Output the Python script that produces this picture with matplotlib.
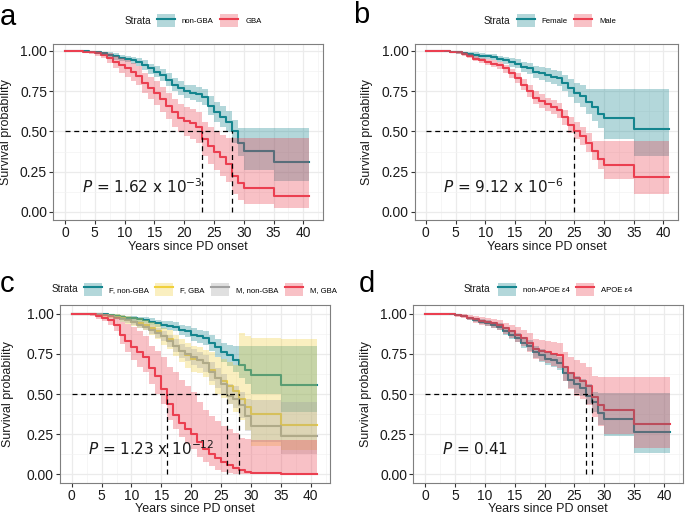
import matplotlib

matplotlib.use("Agg")

import matplotlib.pyplot as plt  # noqa: E402
import numpy as np  # noqa: E402
from matplotlib.lines import Line2D  # noqa: E402
from matplotlib.patches import Patch  # noqa: E402
from matplotlib.legend_handler import HandlerTuple  # noqa: E402

# ── Data ───────────────────────────────────────────────────────────────────────
# step times shared by every curve; each curve runs on to END
YEARS = [0, 3, 4, 5, 6, 7, 8, 9, 10, 11, 12, 13, 14, 15, 16, 17, 18, 19, 20,
         21, 22, 23, 24, 25, 26, 27, 28, 29, 30, 35]
END = 41

# a: GBA status
A_NONGBA = [1.00, 0.998, 0.995, 0.99, 0.985, 0.975, 0.965, 0.955, 0.95, 0.94, 0.93, 0.91, 0.89, 0.87, 0.85,
            0.82, 0.79, 0.77, 0.75, 0.74, 0.73, 0.715, 0.66, 0.62, 0.59, 0.56, 0.50, 0.43, 0.378, 0.308]
A_NONGBA_HI = [1.0, 1.0, 1.0, 1.0, 0.995, 0.99, 0.985, 0.975, 0.97, 0.962, 0.955, 0.94, 0.92, 0.905, 0.885,
               0.86, 0.83, 0.81, 0.79, 0.785, 0.775, 0.765, 0.72, 0.685, 0.655, 0.625, 0.57, 0.52, 0.52, 0.52]
A_NONGBA_LO = [1.0, 0.995, 0.99, 0.98, 0.974, 0.96, 0.945, 0.935, 0.928, 0.915, 0.903, 0.88, 0.858, 0.835, 0.813,
               0.78, 0.75, 0.728, 0.705, 0.695, 0.683, 0.663, 0.60, 0.555, 0.525, 0.495, 0.43, 0.35, 0.26, 0.19]
A_GBA = [1.00, 0.995, 0.99, 0.985, 0.975, 0.955, 0.93, 0.91, 0.89, 0.87, 0.845, 0.80, 0.77, 0.74, 0.70,
         0.66, 0.62, 0.585, 0.565, 0.55, 0.53, 0.45, 0.41, 0.37, 0.34, 0.30, 0.22, 0.18, 0.15, 0.10]
A_GBA_HI = [1.0, 1.0, 1.0, 1.0, 0.995, 0.985, 0.97, 0.955, 0.94, 0.925, 0.905, 0.865, 0.84, 0.81, 0.775,
            0.74, 0.70, 0.67, 0.65, 0.64, 0.62, 0.56, 0.53, 0.50, 0.48, 0.46, 0.46, 0.46, 0.457, 0.457]
A_GBA_LO = [1.0, 0.99, 0.98, 0.97, 0.955, 0.925, 0.89, 0.865, 0.84, 0.815, 0.785, 0.735, 0.70, 0.665, 0.62,
            0.575, 0.53, 0.495, 0.47, 0.455, 0.43, 0.345, 0.30, 0.26, 0.225, 0.185, 0.11, 0.075, 0.05, 0.023]
A_MEDIANS = [23, 28]

# b: sex
B_FEMALE = [1.00, 0.998, 0.995, 0.99, 0.985, 0.98, 0.975, 0.97, 0.965, 0.96, 0.95, 0.94, 0.93, 0.92, 0.90,
            0.89, 0.87, 0.86, 0.85, 0.84, 0.83, 0.80, 0.77, 0.74, 0.72, 0.68, 0.65, 0.61, 0.58, 0.515]
B_FEMALE_HI = [1.0, 1.0, 1.0, 1.0, 0.995, 0.993, 0.99, 0.985, 0.982, 0.978, 0.97, 0.963, 0.955, 0.948, 0.93,
               0.922, 0.905, 0.897, 0.89, 0.882, 0.875, 0.85, 0.825, 0.80, 0.785, 0.765, 0.76, 0.76, 0.76, 0.76]
B_FEMALE_LO = [1.0, 0.995, 0.99, 0.98, 0.972, 0.965, 0.958, 0.952, 0.946, 0.94, 0.928, 0.915, 0.902, 0.89, 0.867,
               0.855, 0.832, 0.82, 0.807, 0.795, 0.783, 0.748, 0.713, 0.678, 0.653, 0.605, 0.565, 0.52, 0.455, 0.35]
B_MALE = [1.00, 0.997, 0.993, 0.99, 0.98, 0.97, 0.95, 0.94, 0.93, 0.92, 0.91, 0.89, 0.86, 0.83, 0.79,
          0.75, 0.71, 0.69, 0.67, 0.65, 0.63, 0.59, 0.54, 0.50, 0.47, 0.43, 0.38, 0.33, 0.29, 0.215]
B_MALE_HI = [1.0, 1.0, 0.998, 0.995, 0.99, 0.982, 0.965, 0.957, 0.948, 0.94, 0.932, 0.914, 0.888, 0.86, 0.825,
             0.787, 0.75, 0.73, 0.71, 0.692, 0.673, 0.635, 0.59, 0.555, 0.525, 0.49, 0.44, 0.44, 0.44, 0.44]
B_MALE_LO = [1.0, 0.993, 0.987, 0.982, 0.97, 0.957, 0.934, 0.922, 0.91, 0.898, 0.887, 0.865, 0.83, 0.797, 0.755,
             0.713, 0.67, 0.648, 0.627, 0.605, 0.585, 0.54, 0.49, 0.45, 0.415, 0.375, 0.32, 0.265, 0.205, 0.11]
B_MEDIANS = [25]

# c: sex x GBA status
C_F_NONGBA = [1.00, 0.999, 0.997, 0.995, 0.99, 0.985, 0.98, 0.975, 0.97, 0.965, 0.96, 0.95, 0.94, 0.93, 0.925,
              0.92, 0.90, 0.89, 0.87, 0.86, 0.85, 0.82, 0.79, 0.76, 0.74, 0.71, 0.68, 0.65, 0.62, 0.557]
C_F_NONGBA_HI = [1.0, 1.0, 1.0, 1.0, 0.998, 0.995, 0.992, 0.988, 0.985, 0.982, 0.978, 0.97, 0.963, 0.955, 0.952,
                 0.948, 0.932, 0.924, 0.908, 0.90, 0.892, 0.868, 0.845, 0.82, 0.805, 0.80, 0.80, 0.80, 0.80, 0.80]
C_F_NONGBA_LO = [1.0, 0.997, 0.993, 0.988, 0.98, 0.973, 0.966, 0.96, 0.953, 0.946, 0.94, 0.928, 0.915, 0.903, 0.896,
                 0.89, 0.866, 0.853, 0.83, 0.818, 0.805, 0.77, 0.733, 0.697, 0.672, 0.635, 0.60, 0.56, 0.50, 0.385]
C_F_GBA = [1.00, 0.998, 0.995, 0.99, 0.985, 0.98, 0.97, 0.96, 0.95, 0.94, 0.93, 0.91, 0.89, 0.86, 0.84,
           0.80, 0.77, 0.74, 0.72, 0.71, 0.69, 0.65, 0.60, 0.58, 0.55, 0.52, 0.47, 0.42, 0.377, 0.31]
C_F_GBA_HI = [1.0, 1.0, 1.0, 1.0, 0.998, 0.995, 0.99, 0.984, 0.977, 0.97, 0.963, 0.95, 0.935, 0.912, 0.897,
              0.865, 0.842, 0.818, 0.80, 0.792, 0.776, 0.76, 0.73, 0.72, 0.70, 0.68, 0.88, 0.86, 0.85, 0.845]
C_F_GBA_LO = [1.0, 0.995, 0.99, 0.98, 0.972, 0.965, 0.95, 0.936, 0.923, 0.91, 0.897, 0.87, 0.845, 0.808, 0.783,
              0.735, 0.698, 0.662, 0.64, 0.628, 0.604, 0.558, 0.50, 0.477, 0.44, 0.39, 0.34, 0.275, 0.175, 0.15]
C_M_NONGBA = [1.00, 0.998, 0.995, 0.99, 0.985, 0.975, 0.965, 0.958, 0.95, 0.93, 0.92, 0.90, 0.88, 0.86, 0.83,
              0.80, 0.77, 0.75, 0.73, 0.71, 0.69, 0.64, 0.60, 0.56, 0.49, 0.47, 0.43, 0.36, 0.30, 0.237]
C_M_NONGBA_HI = [1.0, 1.0, 1.0, 0.997, 0.993, 0.986, 0.979, 0.974, 0.968, 0.952, 0.944, 0.927, 0.91, 0.893, 0.867,
                 0.84, 0.813, 0.795, 0.778, 0.76, 0.742, 0.697, 0.66, 0.625, 0.565, 0.55, 0.51, 0.47, 0.46, 0.45]
C_M_NONGBA_LO = [1.0, 0.995, 0.99, 0.983, 0.977, 0.964, 0.951, 0.942, 0.932, 0.908, 0.896, 0.873, 0.85, 0.827, 0.793,
                 0.76, 0.727, 0.705, 0.682, 0.66, 0.638, 0.583, 0.54, 0.495, 0.435, 0.41, 0.35, 0.27, 0.20, 0.124]
C_M_GBA = [1.00, 0.995, 0.985, 0.975, 0.96, 0.93, 0.87, 0.83, 0.79, 0.76, 0.73, 0.66, 0.61, 0.53, 0.44,
           0.37, 0.32, 0.28, 0.25, 0.20, 0.155, 0.125, 0.10, 0.075, 0.06, 0.04, 0.028, 0.015, 0.01, 0.003]
C_M_GBA_HI = [1.0, 1.0, 1.0, 0.998, 0.993, 0.98, 0.95, 0.935, 0.92, 0.89, 0.86, 0.80, 0.77, 0.73, 0.67,
              0.64, 0.59, 0.55, 0.51, 0.45, 0.40, 0.36, 0.33, 0.30, 0.28, 0.26, 0.225, 0.22, 0.215, 0.215]
C_M_GBA_LO = [1.0, 0.985, 0.968, 0.952, 0.93, 0.89, 0.81, 0.76, 0.71, 0.67, 0.635, 0.56, 0.50, 0.44, 0.34,
              0.28, 0.23, 0.19, 0.16, 0.11, 0.075, 0.05, 0.03, 0.015, 0.006, 0.0, 0.0, 0.0, 0.0, 0.0]
C_MEDIANS = [16, 26, 28]

# d: APOE e4 status
D_NONAPOE = [1.00, 0.998, 0.995, 0.99, 0.985, 0.97, 0.96, 0.95, 0.94, 0.93, 0.92, 0.89, 0.87, 0.85, 0.82,
             0.80, 0.76, 0.74, 0.72, 0.71, 0.69, 0.63, 0.59, 0.56, 0.54, 0.49, 0.45, 0.38, 0.344, 0.262]
D_NONAPOE_HI = [1.0, 1.0, 1.0, 0.997, 0.993, 0.982, 0.974, 0.966, 0.958, 0.95, 0.942, 0.915, 0.897, 0.879, 0.852,
                0.834, 0.797, 0.778, 0.76, 0.75, 0.732, 0.676, 0.64, 0.612, 0.594, 0.56, 0.515, 0.505, 0.505, 0.505]
D_NONAPOE_LO = [1.0, 0.995, 0.99, 0.983, 0.977, 0.958, 0.946, 0.934, 0.922, 0.91, 0.898, 0.865, 0.843, 0.821, 0.788,
                0.766, 0.723, 0.702, 0.68, 0.67, 0.648, 0.584, 0.54, 0.508, 0.486, 0.44, 0.385, 0.31, 0.237, 0.134]
D_APOE = [1.00, 0.998, 0.995, 0.99, 0.985, 0.975, 0.965, 0.955, 0.95, 0.94, 0.93, 0.91, 0.89, 0.87, 0.85,
          0.82, 0.78, 0.77, 0.76, 0.75, 0.74, 0.67, 0.63, 0.60, 0.58, 0.55, 0.48, 0.43, 0.398, 0.315]
D_APOE_HI = [1.0, 1.0, 1.0, 1.0, 0.997, 0.99, 0.984, 0.977, 0.974, 0.967, 0.96, 0.945, 0.93, 0.915, 0.90,
             0.877, 0.845, 0.837, 0.83, 0.825, 0.82, 0.76, 0.73, 0.71, 0.69, 0.67, 0.61, 0.604, 0.604, 0.604]
D_APOE_LO = [1.0, 0.995, 0.99, 0.98, 0.972, 0.958, 0.945, 0.932, 0.925, 0.912, 0.90, 0.875, 0.85, 0.825, 0.80,
             0.763, 0.715, 0.703, 0.69, 0.675, 0.66, 0.58, 0.53, 0.49, 0.47, 0.43, 0.355, 0.30, 0.25, 0.165]
D_MEDIANS = [27, 28]

X_TICKS = [0, 5, 10, 15, 20, 25, 30, 35, 40]
Y_TICKS = [0.0, 0.25, 0.5, 0.75, 1.0]
Y_TICKLABELS = ["0.00", "0.25", "0.50", "0.75", "1.00"]

# ── Style ─────────────────────────────────────────────────────────────────────
TEAL = "#14858E"
RED = "#EB3F50"
YELLOW = "#F0D03C"
GREY = "#A0A0A0"
BAND_ALPHA = 0.32
BORDER = "#7F7F7F"
GRID = "#EBEBEB"
INK = "#1A1A1A"

W, H = 685, 518

plt.rcParams.update({
    "font.family": ["Liberation Sans", "DejaVu Sans"],
    "mathtext.fontset": "dejavusans",
})

fig = plt.figure(figsize=(W / 100, H / 100), dpi=100)


def px_axes(left, right, top, bottom):
    return fig.add_axes([left / W, 1 - bottom / H, (right - left) / W, (bottom - top) / H])


def style_axes(ax, xlim, ylim):
    ax.set_xlim(*xlim)
    ax.set_ylim(*ylim)
    ax.set_xticks(X_TICKS)
    ax.set_xticks(np.arange(2.5, 43, 5), minor=True)
    ax.set_yticks(Y_TICKS)
    ax.set_yticklabels(Y_TICKLABELS)
    ax.set_yticks(np.arange(0.125, 1.0, 0.25), minor=True)
    ax.grid(True, which="major", color=GRID, lw=0.9, zorder=0)
    ax.grid(True, which="minor", color="#F3F3F3", lw=0.5, zorder=0)
    ax.set_axisbelow(True)
    for sp in ax.spines.values():
        sp.set_color(BORDER)
        sp.set_linewidth(0.8)
    ax.tick_params(which="major", length=3, width=0.8, color="#333333",
                   labelsize=10, labelcolor=INK, pad=1.5)
    ax.tick_params(which="minor", length=0)
    ax.set_xlabel("Years since PD onset", fontsize=9, color=INK, va="top")
    ax.set_ylabel("Survival probability", fontsize=9, color=INK)


def draw_curve(ax, surv, lo, hi, line_color):
    t = YEARS + [END]
    ax.step(t, surv + [surv[-1]], where="post", color=line_color, lw=1.5, zorder=2)
    ax.fill_between(t, lo + [lo[-1]], hi + [hi[-1]], step="post", color=line_color,
                    alpha=BAND_ALPHA, lw=0, zorder=3)


def draw_medians(ax, medians):
    dash = dict(color="black", lw=0.9, ls=(0, (4, 3)), zorder=5)
    ax.plot([0, max(medians)], [0.5, 0.5], **dash)
    for m in medians:
        ax.plot([m, m], [0, 0.5], **dash)


def pval(ax, text):
    ax.text(2.8, 0.16, text, fontsize=11, family="DejaVu Sans", color=INK,
            ha="left", va="center", zorder=6)


def legend(labels, colors, strata_right, box_left, y):
    handles = [(Patch(facecolor=c, alpha=BAND_ALPHA, lw=0), Line2D([], [], color=c, lw=1.5))
               for c in colors]
    fig.text(strata_right / W, 1 - y / H, "Strata", fontsize=7.2, color=INK,
             ha="right", va="center")
    fig.legend(handles, labels, loc="center left", bbox_to_anchor=(box_left / W, 1 - y / H),
               ncol=len(labels), frameon=False, fontsize=5.6, borderpad=0, borderaxespad=0,
               handlelength=2.3, handleheight=2.2, handletextpad=0.9, columnspacing=0.85,
               handler_map={tuple: HandlerTuple(ndivide=1)})


def letter(x, y, s):
    fig.text(x / W, 1 - y / H, s, fontsize=21, color="black", ha="left", va="baseline")


# ── Panel a ───────────────────────────────────────────────────────────────────
ax = px_axes(53.3, 323.3, 44, 220)
style_axes(ax, (-1.96, 43.35), (-0.05, 1.042))
draw_curve(ax, A_NONGBA, A_NONGBA_LO, A_NONGBA_HI, TEAL)
draw_curve(ax, A_GBA, A_GBA_LO, A_GBA_HI, RED)
draw_medians(ax, A_MEDIANS)
pval(ax, r"$P$ = 1.62 x 10$^{-3}$")
ax.yaxis.set_label_coords(-0.152, 0.5)
ax.xaxis.set_label_coords(0.5, -0.12)
legend(["non-GBA", "GBA"], [TEAL, RED], 151, 157, 20.7)
letter(0, 25, "a")

# ── Panel b ───────────────────────────────────────────────────────────────────
ax = px_axes(415, 678.3, 44, 220)
style_axes(ax, (-1.83, 42.05), (-0.05, 1.042))
draw_curve(ax, B_FEMALE, B_FEMALE_LO, B_FEMALE_HI, TEAL)
draw_curve(ax, B_MALE, B_MALE_LO, B_MALE_HI, RED)
draw_medians(ax, B_MEDIANS)
pval(ax, r"$P$ = 9.12 x 10$^{-6}$")
ax.yaxis.set_label_coords(-0.158, 0.5)
ax.xaxis.set_label_coords(0.5, -0.12)
legend(["Female", "Male"], [TEAL, RED], 510, 516.7, 20.7)
letter(353, 23, "b")

# ── Panel c ───────────────────────────────────────────────────────────────────
ax = px_axes(60, 330, 305, 483)
style_axes(ax, (-1.95, 43.2), (-0.054, 1.054))
draw_curve(ax, C_F_NONGBA, C_F_NONGBA_LO, C_F_NONGBA_HI, TEAL)
draw_curve(ax, C_F_GBA, C_F_GBA_LO, C_F_GBA_HI, YELLOW)
draw_curve(ax, C_M_NONGBA, C_M_NONGBA_LO, C_M_NONGBA_HI, GREY)
draw_curve(ax, C_M_GBA, C_M_GBA_LO, C_M_GBA_HI, RED)
draw_medians(ax, C_MEDIANS)
pval(ax, r"$P$ = 1.23 x 10$^{-12}$")
ax.yaxis.set_label_coords(-0.17, 0.5)
ax.xaxis.set_label_coords(0.5, -0.1124)
legend(["F, non-GBA", "F, GBA", "M, non-GBA", "M, GBA"], [TEAL, YELLOW, GREY, RED],
       78.3, 84, 289.3)
letter(0, 292, "c")

# ── Panel d ───────────────────────────────────────────────────────────────────
ax = px_axes(413.3, 683.3, 305, 483)
style_axes(ax, (-1.95, 43.2), (-0.054, 1.054))
draw_curve(ax, D_NONAPOE, D_NONAPOE_LO, D_NONAPOE_HI, TEAL)
draw_curve(ax, D_APOE, D_APOE_LO, D_APOE_HI, RED)
draw_medians(ax, D_MEDIANS)
pval(ax, r"$P$ = 0.41")
ax.yaxis.set_label_coords(-0.152, 0.5)
ax.xaxis.set_label_coords(0.5, -0.1124)
legend(["non-APOE ε4", "APOE ε4"], [TEAL, RED], 490.7, 497.7, 289.3)
letter(359, 292, "d")

fig.savefig("out.png", dpi=100)
